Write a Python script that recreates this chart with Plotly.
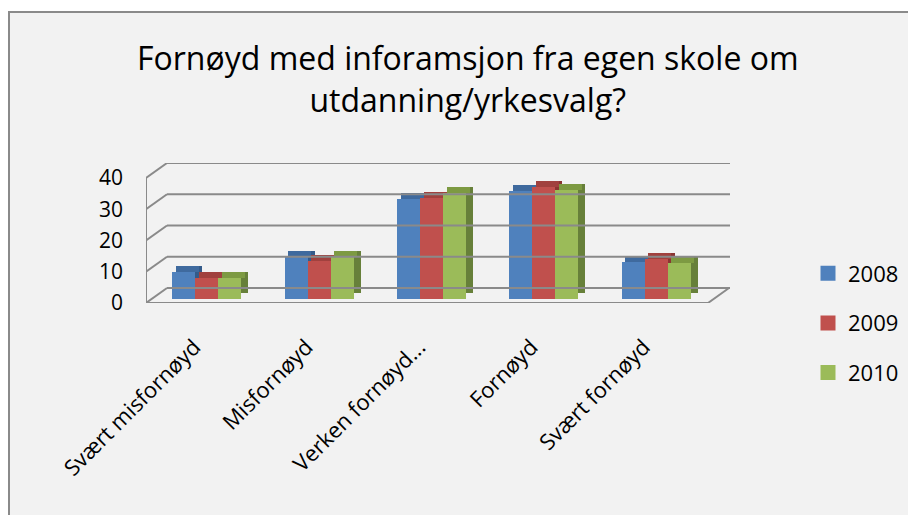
import plotly.graph_objects as go

categories = ["Svært misfornøyd", "Misfornøyd", "Verken fornøyd...", "Fornøyd", "Svært fornøyd"]
series_names = ["2008", "2009", "2010"]
values_2008 = [8.5, 13.3, 32.0, 34.5, 11.8]
values_2009 = [6.7, 12.1, 32.4, 36.0, 12.9]
values_2010 = [6.7, 13.3, 33.8, 34.8, 11.4]
y_ticks = [0, 10, 20, 30, 40]

series_values = [values_2008, values_2009, values_2010]
front_colors = ["#4f81bd", "#c0504d", "#9bbb59"]
top_colors = ["#3f6a9e", "#a1413e", "#7d9a42"]
side_colors = ["#345b8a", "#8a3532", "#67803a"]

# page body has an 8px margin, so the figure starts at (8, 8) on screen
OX, OY = 8, 8
W, H = 916 - OX, 515 - OY
L, R, T, B = 146 - OX, 730 - OX, 163 - OY, 303 - OY   # plot area in figure pixels
px_per_cat = 112.4
px_per_unit = 3.125
x_range = [-0.5, -0.5 + (R - L) / px_per_cat]
y_range = [0, (B - T) / px_per_unit]
dxw = 21 / px_per_cat      # wall depth (x)
dyw = 15 / px_per_unit     # wall depth (y)

bw = 23 / px_per_cat
base0 = 4 / px_per_unit
ddx = 7 / px_per_cat
ddy = 6 / px_per_unit
xpos = list(range(len(categories)))


def px_x(sx):
    return (sx - OX - L) / (R - L)


def px_y(sy):
    return (B - (sy - OY)) / (B - T)


fig = go.Figure()
offs = [0.04 - 1.5 * bw + i * bw for i in range(3)]
# side faces
for i, vals in enumerate(series_values):
    fig.add_trace(go.Bar(x=xpos, y=vals, base=[base0 + ddy] * len(vals), offset=offs[i] + ddx, width=bw,
                         marker=dict(color=side_colors[i], line_width=0), showlegend=False, hoverinfo="skip"))
# top faces
for i, vals in enumerate(series_values):
    fig.add_trace(go.Bar(x=xpos, y=[ddy] * len(vals), base=[v + base0 for v in vals], offset=offs[i] + ddx / 2, width=bw,
                         marker=dict(color=top_colors[i], line_width=0), showlegend=False, hoverinfo="skip"))
# front faces
for i, vals in enumerate(series_values):
    fig.add_trace(go.Bar(x=xpos, y=vals, base=[base0] * len(vals), offset=offs[i], width=bw, name=series_names[i],
                         marker=dict(color=front_colors[i], line_width=0), showlegend=False))
# legend entries
for i, name in enumerate(series_names):
    fig.add_trace(go.Scatter(x=[None], y=[None], mode="markers", name=name, legendgroup=name,
                             marker=dict(symbol="square", size=15, color=front_colors[i])))

gc = "#8a8a8a"
shapes = []
# outer chart border
shapes.append(dict(type="rect", xref="paper", yref="paper", layer="below",
                   x0=px_x(9), x1=px_x(930),
                   y0=px_y(530), y1=px_y(12),
                   fillcolor="#f2f2f2", line=dict(color="#8a8a8a", width=2)))
for v in y_ticks:
    shapes.append(dict(type="line", xref="x", yref="y", x0=-0.5 + dxw, x1=x_range[1], y0=v + dyw, y1=v + dyw,
                       line=dict(color=gc, width=2)))
    shapes.append(dict(type="line", xref="x", yref="y", x0=-0.5, x1=-0.5 + dxw, y0=v, y1=v + dyw,
                       line=dict(color=gc, width=2)))
shapes.append(dict(type="line", xref="x", yref="y", x0=-0.5, x1=-0.5, y0=0, y1=y_ticks[-1], line=dict(color=gc, width=2)))
shapes.append(dict(type="line", xref="x", yref="y", x0=-0.5, x1=4.5, y0=0, y1=0, line=dict(color=gc, width=2)))
shapes.append(dict(type="line", xref="x", yref="y", x0=4.5, x1=4.5 + dxw, y0=0, y1=dyw, line=dict(color=gc, width=2)))

fig.update_layout(
    width=W, height=H,
    margin=dict(l=L, r=W - R, t=T, b=H - B, pad=0),
    paper_bgcolor="white", plot_bgcolor="rgba(0,0,0,0)",
    barmode="overlay",
    font=dict(family="Open Sans, sans-serif", color="#000000"),
    shapes=shapes,
    showlegend=True,
    legend=dict(x=px_x(808), xanchor="left", y=px_y(323), yanchor="middle",
                font=dict(size=22), bgcolor="rgba(0,0,0,0)", traceorder="grouped", tracegroupgap=18),
    annotations=[dict(xref="paper", yref="paper", x=px_x(468), y=px_y(78.5),
                      xanchor="center", yanchor="middle", showarrow=False,
                      text="Fornøyd med inforamsjon fra egen skole om<br>utdanning/yrkesvalg?",
                      font=dict(size=32, family="Open Sans, sans-serif"))],
    bargap=0,
)
fig.update_xaxes(range=x_range, tickmode="array", tickvals=xpos, ticktext=categories, tickangle=-45,
                 showgrid=False, zeroline=False, showline=False, ticks="", tickfont=dict(size=22),
                 ticklabelstandoff=26, ticklabelshift=-8)
fig.update_yaxes(range=y_range, tickmode="array", tickvals=y_ticks, showgrid=False, zeroline=False,
                 showline=False, ticks="", tickfont=dict(size=21), ticklabelstandoff=22)

fig.write_html("out.html")
